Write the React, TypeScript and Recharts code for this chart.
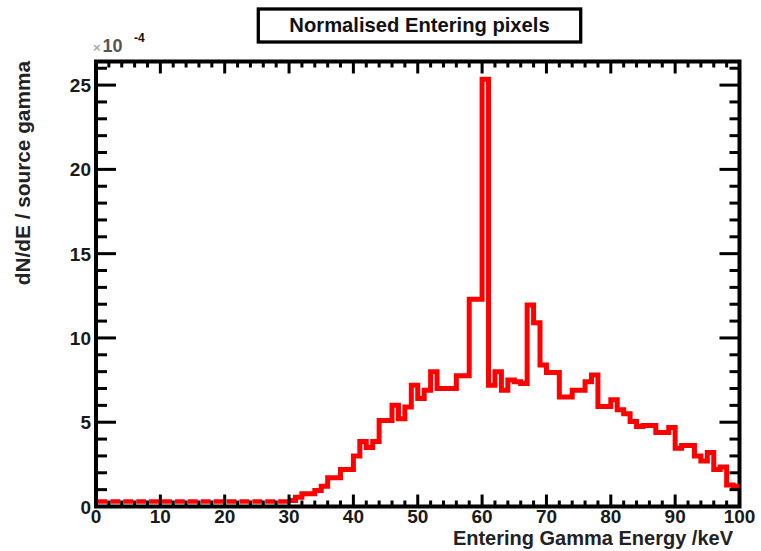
import React from 'react';
import { ComposedChart, Line, XAxis, YAxis, ReferenceArea } from 'recharts';

// Histogram binning (keV)
const BIN_LOW_EDGE = 0;
const BIN_WIDTH = 1;

// dN/dE per source gamma (x10^-4), one value per 1 keV bin, 0..100 keV
const binValues = [
  0.3, 0.3, 0.3, 0.3, 0.3, 0.3, 0.3, 0.3, 0.3, 0.3,
  0.3, 0.3, 0.3, 0.3, 0.3, 0.3, 0.3, 0.3, 0.3, 0.3,
  0.3, 0.3, 0.3, 0.3, 0.3, 0.3, 0.3, 0.3, 0.3, 0.3,
  0.35, 0.55, 0.75, 0.75, 0.95, 1.2, 1.7, 1.7, 2.2, 2.2,
  3.0, 3.85, 3.5, 3.85, 5.1, 5.1, 6.0, 5.2, 5.9, 7.2,
  6.4, 6.9, 8.0, 7.0, 7.0, 7.0, 7.75, 7.75, 12.3, 12.3,
  25.35, 7.2, 8.0, 6.9, 7.5, 7.4, 7.3, 11.95, 10.9, 8.4,
  7.95, 7.95, 6.5, 6.5, 6.9, 6.9, 7.4, 7.8, 5.93, 5.93,
  6.33, 5.74, 5.5, 5.04, 4.74, 4.8, 4.8, 4.39, 4.39, 4.69,
  3.46, 3.62, 3.62, 3.0, 2.7, 3.2, 2.2, 2.34, 1.27, 1.2,
];

// first bin edge above the empty (near-zero) low-energy region
const EMPTY_REGION_END = 30;

const xTickValues = [
  0, 2, 4, 6, 8, 10, 12, 14, 16, 18, 20, 22, 24, 26, 28, 30, 32, 34, 36, 38,
  40, 42, 44, 46, 48, 50, 52, 54, 56, 58, 60, 62, 64, 66, 68, 70, 72, 74, 76, 78,
  80, 82, 84, 86, 88, 90, 92, 94, 96, 98, 100,
];
const xMajorLabels = [0, 10, 20, 30, 40, 50, 60, 70, 80, 90, 100];
const yTickValues = [
  0, 1, 2, 3, 4, 5, 6, 7, 8, 9, 10, 11, 12, 13, 14, 15, 16, 17, 18, 19, 20,
  21, 22, 23, 24, 25, 26,
];
const yMajorLabels = [0, 5, 10, 15, 20, 25];

const X_DOMAIN: [number, number] = [0, 100];
const Y_DOMAIN: [number, number] = [0, 26.4];

const TITLE = 'Normalised Entering pixels';
const X_TITLE = 'Entering Gamma Energy /keV';
const Y_TITLE = 'dN/dE / source gamma';
const EXPONENT = '-4';

const FONT = '"Liberation Sans", Arial, Helvetica, sans-serif';

const data = binValues.map((v, i) => ({ e: BIN_LOW_EDGE + i * BIN_WIDTH, v }));
data.push({
  e: BIN_LOW_EDGE + binValues.length * BIN_WIDTH,
  v: binValues[binValues.length - 1],
});
const lowData = data.filter((d) => d.e <= EMPTY_REGION_END).map((d, i, arr) =>
  i === arr.length - 1 ? { e: d.e, v: arr[i - 1].v } : d
);
const highData = data.filter((d) => d.e >= EMPTY_REGION_END);

const TICK_W = 3;

const BottomTick = (p: any) => {
  const { x, y, payload } = p;
  const v = payload.value;
  const major = xMajorLabels.includes(v);
  return (
    <g>
      <line x1={x} x2={x} y1={y} y2={y - (major ? 12 : 6)} stroke="#000" strokeWidth={TICK_W} />
      {major && (
        <text x={x} y={y + 16.5} textAnchor="middle" fontFamily={FONT} fontWeight="bold" fontSize={19} fill="#1a1a1a">
          {v}
        </text>
      )}
    </g>
  );
};

const TopTick = (p: any) => {
  const { x, y, payload } = p;
  const major = xMajorLabels.includes(payload.value);
  return <line x1={x} x2={x} y1={y} y2={y + (major ? 12 : 6)} stroke="#000" strokeWidth={TICK_W} />;
};

const LeftTick = (p: any) => {
  const { x, y, payload } = p;
  const v = payload.value;
  const major = yMajorLabels.includes(v);
  return (
    <g>
      <line x1={x} x2={x + (major ? 20 : 11)} y1={y} y2={y} stroke="#000" strokeWidth={TICK_W} />
      {major && (
        <text x={x - 5} y={y + 7} textAnchor="end" fontFamily={FONT} fontWeight="bold" fontSize={19} fill="#1a1a1a">
          {v}
        </text>
      )}
    </g>
  );
};

const RightTick = (p: any) => {
  const { x, y, payload } = p;
  const major = yMajorLabels.includes(payload.value);
  return <line x1={x} x2={x - (major ? 20 : 10)} y1={y} y2={y} stroke="#000" strokeWidth={TICK_W} />;
};

export default function App() {
  return (
    <div style={{ position: 'absolute', left: 0, top: 0, width: 761, height: 551, background: '#fff' }}>
      <ComposedChart width={761} height={551} data={data} margin={{ top: 0, right: 0, bottom: 0, left: 0 }}>
        <Line
          data={lowData}
          type="stepAfter"
          dataKey="v"
          stroke="#ff0000"
          strokeWidth={4.5}
          strokeDasharray="9.9 3"
          strokeDashoffset={11.4}
          dot={false}
          activeDot={false}
          isAnimationActive={false}
        />
        <Line
          data={highData}
          type="stepAfter"
          dataKey="v"
          stroke="#ff0000"
          strokeWidth={5}
          dot={false}
          activeDot={false}
          isAnimationActive={false}
        />
        <ReferenceArea
          x1={X_DOMAIN[0]}
          x2={X_DOMAIN[1]}
          y1={Y_DOMAIN[0]}
          y2={Y_DOMAIN[1]}
          fill="none"
          fillOpacity={0}
          stroke="#000"
          strokeWidth={4}
          ifOverflow="visible"
        />
        <XAxis
          dataKey="e"
          type="number"
          domain={X_DOMAIN}
          ticks={xTickValues}
          interval={0}
          height={44.5}
          tickSize={0}
          tickMargin={0}
          axisLine={false}
          tickLine={false}
          tick={(p: any) => <BottomTick {...p} />}
          allowDataOverflow
        />
        <XAxis
          xAxisId="top"
          orientation="top"
          type="number"
          domain={X_DOMAIN}
          ticks={xTickValues}
          interval={0}
          height={61.5}
          tickSize={0}
          tickMargin={0}
          axisLine={false}
          tickLine={false}
          tick={(p: any) => <TopTick {...p} />}
          allowDataOverflow
        />
        <YAxis
          type="number"
          domain={Y_DOMAIN}
          ticks={yTickValues}
          interval={0}
          width={96}
          tickSize={0}
          tickMargin={0}
          axisLine={false}
          tickLine={false}
          tick={(p: any) => <LeftTick {...p} />}
          allowDataOverflow
        />
        <YAxis
          yAxisId="right"
          orientation="right"
          type="number"
          domain={Y_DOMAIN}
          ticks={yTickValues}
          interval={0}
          width={21.5}
          tickSize={0}
          tickMargin={0}
          axisLine={false}
          tickLine={false}
          tick={(p: any) => <RightTick {...p} />}
          allowDataOverflow
        />
      </ComposedChart>
      <svg
        width={761}
        height={551}
        style={{ position: 'absolute', left: 0, top: 0, pointerEvents: 'none' }}
      >
        <rect x={258.3} y={9} width={322.4} height={33} fill="#fff" stroke="#000" strokeWidth={3.3} />
        <text x={419.5} y={32} textAnchor="middle" fontFamily={FONT} fontWeight="bold" fontSize={20.2} fill="#111">
          {TITLE}
        </text>
        <text x={93} y={52} fontFamily={FONT} fontWeight="bold" fontSize={18} fill="#555">
          <tspan fontSize={13} fill="#aaa">×</tspan>
          <tspan dx={2}>10</tspan>
        </text>
        <text x={134} y={42} fontFamily={FONT} fontWeight="bold" fontSize={12} fill="#111">
          {EXPONENT}
        </text>
        <text x={733} y={545} textAnchor="end" fontFamily={FONT} fontWeight="bold" fontSize={20} fill="#222">
          {X_TITLE}
        </text>
        <text
          transform="translate(30,61) rotate(-90)"
          textAnchor="end"
          fontFamily={FONT}
          fontWeight="bold"
          fontSize={20.8}
          fill="#222"
        >
          {Y_TITLE}
        </text>
      </svg>
    </div>
  );
}
